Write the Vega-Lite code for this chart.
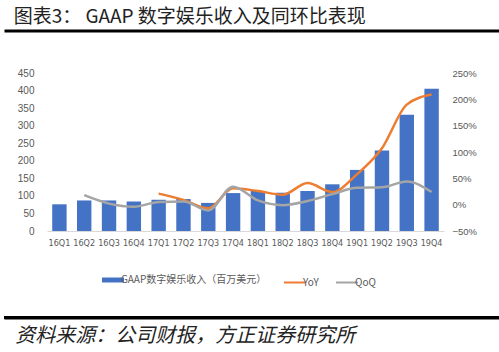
{
  "$schema": "https://vega.github.io/schema/vega-lite/v6.json",
  "padding": {"top": 8, "left": 0, "right": 0, "bottom": 0},
  "background": "white",
  "config": {"view": {"stroke": "transparent"}},
  "title": {
    "text": "图表3：  GAAP 数字娱乐收入及同环比表现",
    "anchor": "start",
    "dx": 13,
    "fontSize": 19,
    "font": "Noto Sans CJK SC",
    "fontWeight": "normal",
    "color": "#222222",
    "offset": 0
  },
  "datasets": {
    "bars": [
      {"q": "16Q1", "rev": 76}, {"q": "16Q2", "rev": 87}, {"q": "16Q3", "rev": 87}, {"q": "16Q4", "rev": 84},
      {"q": "17Q1", "rev": 89}, {"q": "17Q2", "rev": 91}, {"q": "17Q3", "rev": 80}, {"q": "17Q4", "rev": 108},
      {"q": "18Q1", "rev": 114}, {"q": "18Q2", "rev": 109}, {"q": "18Q3", "rev": 114}, {"q": "18Q4", "rev": 133},
      {"q": "19Q1", "rev": 174}, {"q": "19Q2", "rev": 229}, {"q": "19Q3", "rev": 331}, {"q": "19Q4", "rev": 405}
    ],
    "lines": [
      {"q": "17Q1", "series": "YoY", "v": 0.21}, {"q": "17Q2", "series": "YoY", "v": 0.09},
      {"q": "17Q3", "series": "YoY", "v": -0.07}, {"q": "17Q4", "series": "YoY", "v": 0.31},
      {"q": "18Q1", "series": "YoY", "v": 0.26}, {"q": "18Q2", "series": "YoY", "v": 0.19},
      {"q": "18Q3", "series": "YoY", "v": 0.41}, {"q": "18Q4", "series": "YoY", "v": 0.24},
      {"q": "19Q1", "series": "YoY", "v": 0.58}, {"q": "19Q2", "series": "YoY", "v": 1.07},
      {"q": "19Q3", "series": "YoY", "v": 1.90}, {"q": "19Q4", "series": "YoY", "v": 2.09},
      {"q": "16Q2", "series": "QoQ", "v": 0.18}, {"q": "16Q3", "series": "QoQ", "v": 0.02},
      {"q": "16Q4", "series": "QoQ", "v": -0.04}, {"q": "17Q1", "series": "QoQ", "v": 0.05},
      {"q": "17Q2", "series": "QoQ", "v": 0.06}, {"q": "17Q3", "series": "QoQ", "v": -0.11},
      {"q": "17Q4", "series": "QoQ", "v": 0.34}, {"q": "18Q1", "series": "QoQ", "v": 0.08},
      {"q": "18Q2", "series": "QoQ", "v": -0.01}, {"q": "18Q3", "series": "QoQ", "v": 0.07},
      {"q": "18Q4", "series": "QoQ", "v": 0.20}, {"q": "19Q1", "series": "QoQ", "v": 0.32},
      {"q": "19Q2", "series": "QoQ", "v": 0.33}, {"q": "19Q3", "series": "QoQ", "v": 0.44},
      {"q": "19Q4", "series": "QoQ", "v": 0.24}
    ],
    "band": [{"a": 0, "b": 1}]
  },
  "spacing": 0,
  "resolve": {"scale": {"color": "independent"}, "legend": {"color": "independent"}},
  "vconcat": [
    {
      "width": 499,
      "height": 1,
      "data": {"values": []},
      "mark": "point",
      "encoding": {}
    },
    {
      "width": 499,
      "height": 37,
      "data": {"name": "band"},
      "mark": {"type": "point", "opacity": 0},
      "encoding": {
        "x": {"field": "a", "type": "quantitative", "scale": {"domain": [0, 1], "nice": false, "zero": false},
              "axis": {"orient": "top", "offset": -1.5, "domain": true, "domainColor": "black", "domainWidth": 3, "labels": false, "ticks": false, "grid": false, "title": null}}
      }
    },
    {
      "spacing": 0,
      "resolve": {"scale": {"color": "independent"}, "legend": {"color": "independent"}},
      "hconcat": [
        {
          "width": 1,
          "height": 1,
          "data": {"values": []},
          "mark": "point",
          "encoding": {}
        },
        {
          "width": 397,
          "height": 158,
          "layer": [
            {
              "data": {"name": "bars"},
              "mark": {"type": "bar"},
              "encoding": {
                "x": {
                  "field": "q",
                  "type": "nominal",
                  "sort": null,
                  "scale": {
                    "domain": ["16Q1","16Q2","16Q3","16Q4","17Q1","17Q2","17Q3","17Q4","18Q1","18Q2","18Q3","18Q4","19Q1","19Q2","19Q3","19Q4"],
                    "paddingInner": 0.42,
                    "paddingOuter": 0.21
                  },
                  "axis": {
                    "title": null,
                    "labelAngle": 0,
                    "ticks": false,
                    "grid": false,
                    "domainColor": "#d9d9d9",
                    "labelColor": "#595959",
                    "labelFontSize": 9,
                    "labelFont": "'Liberation Sans Narrow', 'DejaVu Sans Condensed', 'Roboto Condensed', Roboto, sans-serif",
                    "labelPadding": 7
                  }
                },
                "y": {
                  "field": "rev",
                  "type": "quantitative",
                  "scale": {"domain": [0, 450]},
                  "axis": {
                    "title": null,
                    "values": [0, 50, 100, 150, 200, 250, 300, 350, 400, 450],
                    "domain": false,
                    "ticks": false,
                    "grid": false,
                    "labelColor": "#595959",
                    "labelFontSize": 10,
                    "labelFont": "Liberation Sans",
                    "labelPadding": 13,
                    "minExtent": 41
                  }
                },
                "color": {
                  "datum": "GAAP数字娱乐收入（百万美元）",
                  "type": "nominal",
                  "scale": {
                    "domain": ["GAAP数字娱乐收入（百万美元）", "YoY", "QoQ"],
                    "range": ["#4472C4", "#ED7D31", "#A5A5A5"]
                  },
                  "legend": {
                    "orient": "none",
                    "legendX": 61,
                    "legendY": 202,
                    "direction": "horizontal",
                    "title": null,
                    "symbolType": "stroke",
                    "symbolSize": 484,
                    "symbolStrokeWidth": 2,
                    "labelFontSize": 10,
                    "labelFont": "Noto Sans CJK SC",
                    "labelColor": "#595959",
                    "columnPadding": 13,
                    "labelOffset": 3,
                    "encode": {
                      "symbols": {
                        "update": {
                          "strokeWidth": {"signal": "datum.value === 'YoY' || datum.value === 'QoQ' ? 2 : 5"},
                          "stroke": {"scale": "color", "field": "value"},
                          "fill": {"value": "transparent"}
                        }
                      }
                    }
                  }
                }
              }
            },
            {
              "data": {"name": "lines"},
              "mark": {"type": "line", "interpolate": "monotone", "strokeWidth": 2.5},
              "encoding": {
                "x": {"field": "q", "type": "nominal", "sort": null},
                "y": {
                  "field": "v",
                  "type": "quantitative",
                  "scale": {"domain": [-0.5, 2.5]},
                  "axis": {
                    "orient": "right",
                    "title": null,
                    "values": [-0.5, 0, 0.5, 1, 1.5, 2, 2.5],
                    "format": ".0%",
                    "domain": false,
                    "ticks": false,
                    "grid": false,
                    "labelColor": "#595959",
                    "labelFontSize": 9.5,
                    "labelFont": "Liberation Sans",
                    "labelPadding": 8
                  }
                },
                "color": {
                  "field": "series",
                  "type": "nominal",
                  "legend": {
                    "orient": "none",
                    "legendX": 61,
                    "legendY": 202,
                    "direction": "horizontal",
                    "title": null,
                    "symbolType": "stroke",
                    "symbolSize": 484,
                    "symbolStrokeWidth": 2,
                    "labelFontSize": 10,
                    "labelFont": "Noto Sans CJK SC",
                    "labelColor": "#595959",
                    "columnPadding": 13,
                    "labelOffset": 3,
                    "encode": {
                      "symbols": {
                        "update": {
                          "strokeWidth": {"signal": "datum.value === 'YoY' || datum.value === 'QoQ' ? 2 : 5"},
                          "stroke": {"scale": "color", "field": "value"},
                          "fill": {"value": "transparent"}
                        }
                      }
                    }
                  }
                }
              }
            }
          ],
          "resolve": {"scale": {"y": "independent"}}
        }
      ]
    },
    {
      "width": 499,
      "height": 23,
      "data": {"values": []},
      "mark": "point",
      "encoding": {}
    },
    {
      "width": 499,
      "height": 3,
      "title": {
        "text": "资料来源：公司财报，方正证券研究所",
        "orient": "bottom",
        "anchor": "start",
        "dx": 14,
        "fontSize": 20,
        "font": "Noto Sans CJK SC",
        "fontStyle": "italic",
        "fontWeight": "normal",
        "color": "#222222",
        "offset": 6
      },
      "data": {"name": "band"},
      "layer": [
        {"mark": {"type": "rect", "color": "black"}, "encoding": {}},
        {
          "mark": {"type": "point", "opacity": 0},
          "encoding": {
            "x": {"field": "a", "type": "quantitative", "scale": {"domain": [0, 1], "nice": false, "zero": false},
                  "axis": {"orient": "top", "offset": -1.5, "domain": true, "domainColor": "black", "domainWidth": 3, "labels": false, "ticks": false, "grid": false, "title": null}}
          }
        }
      ]
    }
  ]
}
